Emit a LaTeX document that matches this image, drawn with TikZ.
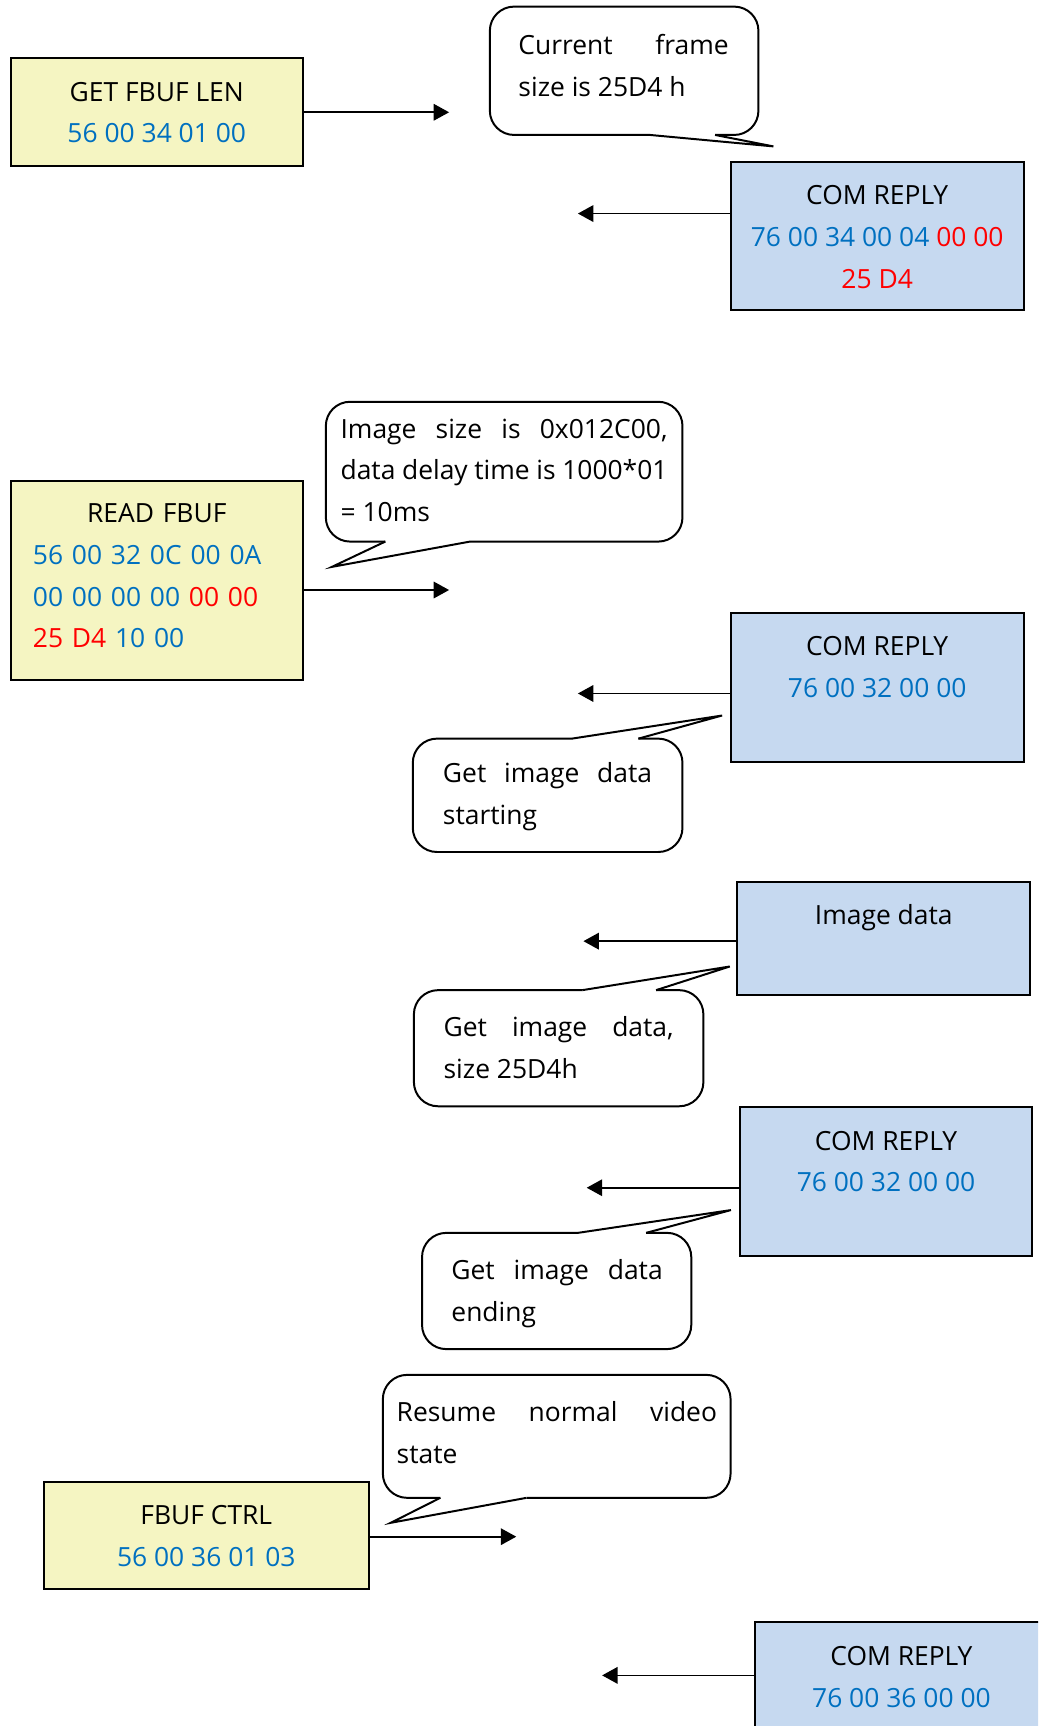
\documentclass[tikz,border=0pt]{standalone}
\usepackage{fontspec}
\setmainfont{Open Sans}
\usepackage{tikz}
\usetikzlibrary{positioning,arrows.meta}
\definecolor{cmdfill}{RGB}{245,245,194}
\definecolor{replyfill}{RGB}{198,217,240}
\definecolor{hexblue}{RGB}{0,112,192}
\definecolor{hexred}{RGB}{255,0,0}
\setlength{\parindent}{0pt}

\begin{document}
\begin{tikzpicture}[
		x=0.5pt, y=0.5pt,
		every node/.style={font=\fontsize{12}{19}\selectfont, inner sep=0pt},
		cmd/.style={rectangle, draw, line width=0.9pt, fill=cmdfill, anchor=north west, minimum width=132.5pt},
		reply/.style={rectangle, draw, line width=0.9pt, fill=replyfill, anchor=north west, minimum width=133pt},
		boxtext/.style={align=center},
		note/.style={anchor=north west, align=left},
		callout/.style={line width=0.9pt},
		flow/.style={line width=0.75pt, -{Triangle[length=7pt,width=7.5pt]}}
	]
  \useasboundingbox (0,0) rectangle (943,-1568);
  \clip (0,0) rectangle (943,-1568);

  \node (getlen) [cmd, minimum height=49pt] at (9,-52) {};
  \node (getlen_txt) [boxtext, below=11pt of getlen.north] {GET FBUF LEN\\\textcolor{hexblue}{56 00 34 01 00}};
  \node (reply1) [reply, minimum height=67.5pt] at (663,-146) {};
  \node (reply1_txt) [boxtext, below=11pt of reply1.north] {COM REPLY\\\textcolor{hexblue}{76 00 34 00 04} \textcolor{hexred}{00 00}\\\textcolor{hexred}{25 D4}};
  \node (readbuf) [cmd, minimum height=90.5pt] at (9,-436) {};
  \node (readbuf_txt) [align=left, text width=112.5pt, below=10.5pt of readbuf.north] {\makebox[\hsize]{READ FBUF}\\\textcolor{hexblue}{56 00 32 0C 00 0A}\\\textcolor{hexblue}{00 00 00 00} \textcolor{hexred}{00 00}\\\textcolor{hexred}{25 D4} \textcolor{hexblue}{10 00}};
  \node (reply2) [reply, minimum height=67.5pt] at (663,-556) {};
  \node (reply2_txt) [boxtext, below=11pt of reply2.north] {COM REPLY\\\textcolor{hexblue}{76 00 32 00 00}};
  \node (imgdata) [reply, minimum height=51.5pt] at (669,-800) {};
  \node (imgdata_txt) [boxtext, below=10.5pt of imgdata.north] {Image data};
  \node (reply3) [reply, minimum height=67.5pt] at (671,-1005) {};
  \node (reply3_txt) [boxtext, below=11pt of reply3.north] {COM REPLY\\\textcolor{hexblue}{76 00 32 00 00}};
  \node (fbufctrl) [cmd, minimum width=147.5pt, minimum height=49pt] at (39,-1345) {};
  \node (fbufctrl_txt) [boxtext, below=11pt of fbufctrl.north] {FBUF CTRL\\\textcolor{hexblue}{56 00 36 01 03}};
  \node (reply4) [reply, minimum height=67.5pt] at (685,-1473) {};
  \node (reply4_txt) [boxtext, below=11pt of reply4.north] {COM REPLY\\\textcolor{hexblue}{76 00 36 00 00}};

  \coordinate (a1) at (408,-102);
  \coordinate (a2) at (525,-194);
  \coordinate (a3) at (408,-536);
  \coordinate (a4) at (525,-630);
  \coordinate (a5) at (530,-855);
  \coordinate (a6) at (533,-1079);
  \coordinate (a7) at (469,-1396);
  \coordinate (a8) at (547,-1522);
  \draw[flow] (getlen.east |- a1) -- (a1);
  \draw[flow] (reply1.west |- a2) -- (a2);
  \draw[flow] (readbuf.east |- a3) -- (a3);
  \draw[flow] (reply2.west |- a4) -- (a4);
  \draw[flow] (imgdata.west |- a5) -- (a5);
  \draw[flow] (reply3.west |- a6) -- (a6);
  \draw[flow] (fbufctrl.east |- a7) -- (a7);
  \draw[flow] (reply4.west |- a8) -- (a8);

  % callouts
  \draw[callout, rounded corners=11pt] (649.6,-122.6) -- (689,-122.6) -- (689,-6) -- (445,-6) -- (445,-122.6) -- (590.5,-122.6);
  \draw[callout] (590.5,-122.6) -- (702.6,-133) -- (649.6,-122.6);
  \node (note1) [note] at (470.6,-31) {\makebox[95.5pt][s]{Current frame}\\size is 25D4 h};

  \draw[callout, rounded corners=11pt] (350,-492) -- (296,-492) -- (296,-365) -- (620,-365) -- (620,-492) -- (427,-492);
  \draw[callout] (427,-492) -- (301.5,-515) -- (350,-492);
  \node (note2) [note] at (309,-380) {\makebox[148.5pt][s]{Image size is 0x012C00,}\\\makebox[148.5pt][s]{data delay time is 1000*01}\\= 10ms};

  \draw[callout, rounded corners=11pt] (580,-671) -- (620,-671) -- (620,-774) -- (375,-774) -- (375,-671) -- (519.6,-671);
  \draw[callout] (519.6,-671) -- (656,-650) -- (580,-671);
  \node (note3) [note] at (402,-692) {\makebox[95pt][s]{Get image data}\\starting};

  \draw[callout, rounded corners=11pt] (596,-899.5) -- (639,-899.5) -- (639,-1005) -- (376,-1005) -- (376,-899.5) -- (529,-899.5);
  \draw[callout] (529,-899.5) -- (663,-878) -- (596,-899.5);
  \node (note4) [note] at (402.6,-923) {\makebox[104.5pt][s]{Get image data,}\\size 25D4h};

  \draw[callout, rounded corners=11pt] (587,-1120) -- (628,-1120) -- (628,-1225.6) -- (383.4,-1225.6) -- (383.4,-1120) -- (525,-1120);
  \draw[callout] (525,-1120) -- (664,-1099.3) -- (587,-1120);
  \node (note5) [note] at (409.7,-1144) {\makebox[96pt][s]{Get image data}\\ending};

  \draw[callout, rounded corners=11pt] (400,-1360.7) -- (347.8,-1360.7) -- (347.8,-1249) -- (663.7,-1249) -- (663.7,-1360.7) -- (478.3,-1360.7);
  \draw[callout] (478.3,-1360.7) -- (355,-1383.4) -- (400,-1360.7);
  \node (note6) [note] at (360,-1273) {\makebox[145.5pt][s]{Resume normal video}\\state};
\end{tikzpicture}
\end{document}
